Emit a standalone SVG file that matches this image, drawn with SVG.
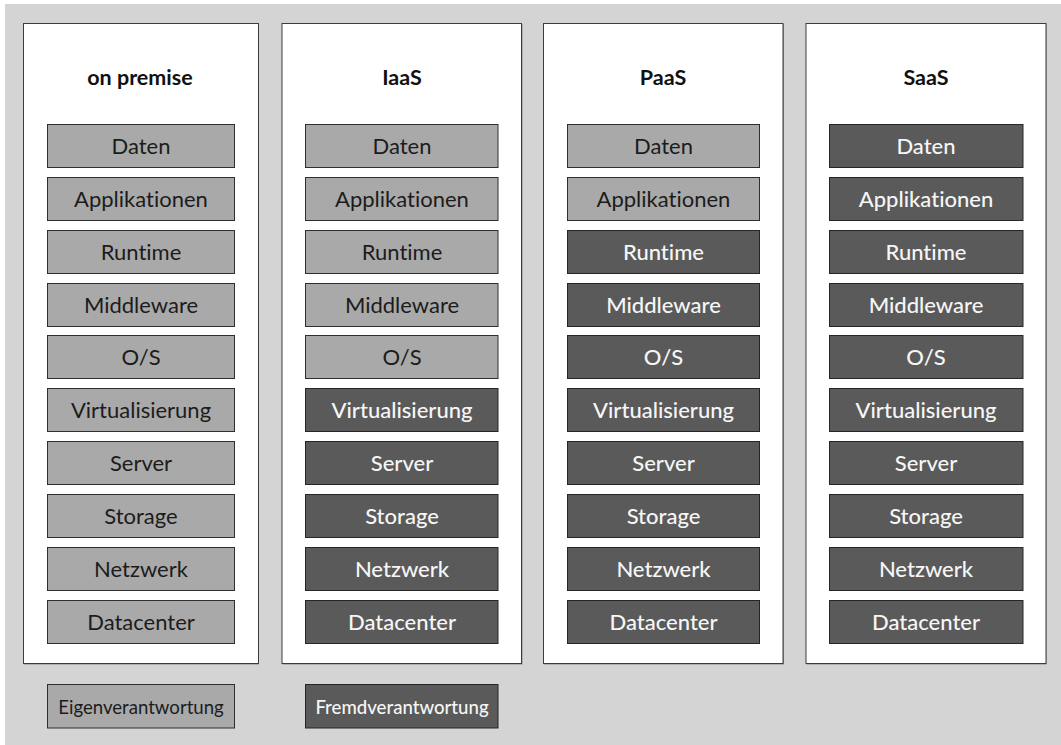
<svg xmlns="http://www.w3.org/2000/svg" width="1061" height="745" viewBox="0 0 1061 745">
  <style>
    text { font-variant-ligatures: none; }
    .bg { fill: #d4d4d4; }
    .panel { fill: #ffffff; stroke: #3c3c3c; stroke-width: 1; }
    .panel-shadow { fill: #8a8a8a; }
    .title { font-family: Lato, "Open Sans", "Liberation Sans", sans-serif; font-size: 21.5px; font-weight: 700; fill: #111111; text-anchor: middle; }
    .own { fill: #a9a9a9; stroke: #2e2e2e; stroke-width: 1; }
    .ext { fill: #5a5a5a; stroke: #262626; stroke-width: 1; }
    .lbl { font-family: Lato, "Open Sans", "Liberation Sans", sans-serif; font-size: 22px; text-anchor: middle; }
    .own-t { fill: #1c1c1c; }
    .ext-t { fill: #f6f6f6; font-weight: 500; }
    .leg { font-family: Lato, "Open Sans", "Liberation Sans", sans-serif; font-size: 18.6px; text-anchor: middle; }
  </style>

  <!-- page background -->
  <rect class="bg" x="5" y="4" width="1056" height="741"/>

  <!-- on premise -->
  <g id="col-onpremise">
    <rect class="panel-shadow" x="24" y="24" width="235" height="640.5"/>
    <rect class="panel" x="23.5" y="23.5" width="235" height="640"/>
    <text class="title" x="140" y="85">on premise</text>
    <g id="op-daten"><rect class="own" x="47.5" y="124.5" width="187" height="43"/><text class="lbl own-t" x="141" y="153.5">Daten</text></g>
    <g id="op-applikationen"><rect class="own" x="47.5" y="177.5" width="187" height="43"/><text class="lbl own-t" x="141" y="206.5">Applikationen</text></g>
    <g id="op-runtime"><rect class="own" x="47.5" y="230.5" width="187" height="43"/><text class="lbl own-t" x="141" y="259.5">Runtime</text></g>
    <g id="op-middleware"><rect class="own" x="47.5" y="283.5" width="187" height="43"/><text class="lbl own-t" x="141" y="312.5">Middleware</text></g>
    <g id="op-os"><rect class="own" x="47.5" y="335.5" width="187" height="43"/><text class="lbl own-t" x="141" y="364.5">O/S</text></g>
    <g id="op-virtualisierung"><rect class="own" x="47.5" y="388.5" width="187" height="43"/><text class="lbl own-t" x="141" y="417.5">Virtualisierung</text></g>
    <g id="op-server"><rect class="own" x="47.5" y="441.5" width="187" height="43"/><text class="lbl own-t" x="141" y="470.5">Server</text></g>
    <g id="op-storage"><rect class="own" x="47.5" y="494.5" width="187" height="43"/><text class="lbl own-t" x="141" y="523.5">Storage</text></g>
    <g id="op-netzwerk"><rect class="own" x="47.5" y="547.5" width="187" height="43"/><text class="lbl own-t" x="141" y="576.5">Netzwerk</text></g>
    <g id="op-datacenter"><rect class="own" x="47.5" y="600.5" width="187" height="43"/><text class="lbl own-t" x="141" y="629.5">Datacenter</text></g>
  </g>

  <!-- IaaS -->
  <g id="col-iaas">
    <rect class="panel-shadow" x="282.5" y="24" width="240" height="640.5"/>
    <rect class="panel" x="282" y="23.5" width="239.5" height="640"/>
    <text class="title" x="402" y="85">IaaS</text>
    <g id="iaas-daten"><rect class="own" x="305.5" y="124.5" width="192.5" height="43"/><text class="lbl own-t" x="402" y="153.5">Daten</text></g>
    <g id="iaas-applikationen"><rect class="own" x="305.5" y="177.5" width="192.5" height="43"/><text class="lbl own-t" x="402" y="206.5">Applikationen</text></g>
    <g id="iaas-runtime"><rect class="own" x="305.5" y="230.5" width="192.5" height="43"/><text class="lbl own-t" x="402" y="259.5">Runtime</text></g>
    <g id="iaas-middleware"><rect class="own" x="305.5" y="283.5" width="192.5" height="43"/><text class="lbl own-t" x="402" y="312.5">Middleware</text></g>
    <g id="iaas-os"><rect class="own" x="305.5" y="335.5" width="192.5" height="43"/><text class="lbl own-t" x="402" y="364.5">O/S</text></g>
    <g id="iaas-virtualisierung"><rect class="ext" x="305.5" y="388.5" width="192.5" height="43"/><text class="lbl ext-t" x="402" y="417.5">Virtualisierung</text></g>
    <g id="iaas-server"><rect class="ext" x="305.5" y="441.5" width="192.5" height="43"/><text class="lbl ext-t" x="402" y="470.5">Server</text></g>
    <g id="iaas-storage"><rect class="ext" x="305.5" y="494.5" width="192.5" height="43"/><text class="lbl ext-t" x="402" y="523.5">Storage</text></g>
    <g id="iaas-netzwerk"><rect class="ext" x="305.5" y="547.5" width="192.5" height="43"/><text class="lbl ext-t" x="402" y="576.5">Netzwerk</text></g>
    <g id="iaas-datacenter"><rect class="ext" x="305.5" y="600.5" width="192.5" height="43"/><text class="lbl ext-t" x="402" y="629.5">Datacenter</text></g>
  </g>

  <!-- PaaS -->
  <g id="col-paas">
    <rect class="panel-shadow" x="544" y="24" width="240" height="640.5"/>
    <rect class="panel" x="543.5" y="23.5" width="239.5" height="640"/>
    <text class="title" x="663" y="85">PaaS</text>
    <g id="paas-daten"><rect class="own" x="567.5" y="124.5" width="192" height="43"/><text class="lbl own-t" x="663.5" y="153.5">Daten</text></g>
    <g id="paas-applikationen"><rect class="own" x="567.5" y="177.5" width="192" height="43"/><text class="lbl own-t" x="663.5" y="206.5">Applikationen</text></g>
    <g id="paas-runtime"><rect class="ext" x="567.5" y="230.5" width="192" height="43"/><text class="lbl ext-t" x="663.5" y="259.5">Runtime</text></g>
    <g id="paas-middleware"><rect class="ext" x="567.5" y="283.5" width="192" height="43"/><text class="lbl ext-t" x="663.5" y="312.5">Middleware</text></g>
    <g id="paas-os"><rect class="ext" x="567.5" y="335.5" width="192" height="43"/><text class="lbl ext-t" x="663.5" y="364.5">O/S</text></g>
    <g id="paas-virtualisierung"><rect class="ext" x="567.5" y="388.5" width="192" height="43"/><text class="lbl ext-t" x="663.5" y="417.5">Virtualisierung</text></g>
    <g id="paas-server"><rect class="ext" x="567.5" y="441.5" width="192" height="43"/><text class="lbl ext-t" x="663.5" y="470.5">Server</text></g>
    <g id="paas-storage"><rect class="ext" x="567.5" y="494.5" width="192" height="43"/><text class="lbl ext-t" x="663.5" y="523.5">Storage</text></g>
    <g id="paas-netzwerk"><rect class="ext" x="567.5" y="547.5" width="192" height="43"/><text class="lbl ext-t" x="663.5" y="576.5">Netzwerk</text></g>
    <g id="paas-datacenter"><rect class="ext" x="567.5" y="600.5" width="192" height="43"/><text class="lbl ext-t" x="663.5" y="629.5">Datacenter</text></g>
  </g>

  <!-- SaaS -->
  <g id="col-saas">
    <rect class="panel-shadow" x="806.5" y="24" width="240" height="640.5"/>
    <rect class="panel" x="806" y="23.5" width="240" height="640"/>
    <text class="title" x="926" y="85">SaaS</text>
    <g id="saas-daten"><rect class="ext" x="829.5" y="124.5" width="193.5" height="43"/><text class="lbl ext-t" x="926" y="153.5">Daten</text></g>
    <g id="saas-applikationen"><rect class="ext" x="829.5" y="177.5" width="193.5" height="43"/><text class="lbl ext-t" x="926" y="206.5">Applikationen</text></g>
    <g id="saas-runtime"><rect class="ext" x="829.5" y="230.5" width="193.5" height="43"/><text class="lbl ext-t" x="926" y="259.5">Runtime</text></g>
    <g id="saas-middleware"><rect class="ext" x="829.5" y="283.5" width="193.5" height="43"/><text class="lbl ext-t" x="926" y="312.5">Middleware</text></g>
    <g id="saas-os"><rect class="ext" x="829.5" y="335.5" width="193.5" height="43"/><text class="lbl ext-t" x="926" y="364.5">O/S</text></g>
    <g id="saas-virtualisierung"><rect class="ext" x="829.5" y="388.5" width="193.5" height="43"/><text class="lbl ext-t" x="926" y="417.5">Virtualisierung</text></g>
    <g id="saas-server"><rect class="ext" x="829.5" y="441.5" width="193.5" height="43"/><text class="lbl ext-t" x="926" y="470.5">Server</text></g>
    <g id="saas-storage"><rect class="ext" x="829.5" y="494.5" width="193.5" height="43"/><text class="lbl ext-t" x="926" y="523.5">Storage</text></g>
    <g id="saas-netzwerk"><rect class="ext" x="829.5" y="547.5" width="193.5" height="43"/><text class="lbl ext-t" x="926" y="576.5">Netzwerk</text></g>
    <g id="saas-datacenter"><rect class="ext" x="829.5" y="600.5" width="193.5" height="43"/><text class="lbl ext-t" x="926" y="629.5">Datacenter</text></g>
  </g>

  <!-- legend -->
  <g id="legend-eigen">
    <rect class="own" x="47.5" y="684.5" width="187" height="43.5"/>
    <text class="leg own-t" x="141" y="714">Eigenverantwortung</text>
  </g>
  <g id="legend-fremd">
    <rect class="ext" x="305.5" y="684.5" width="192.5" height="43.5"/>
    <text class="leg ext-t" x="402" y="714">Fremdverantwortung</text>
  </g>

  <!-- no connectors in this chart -->
  <g id="connectors"/>
</svg>
